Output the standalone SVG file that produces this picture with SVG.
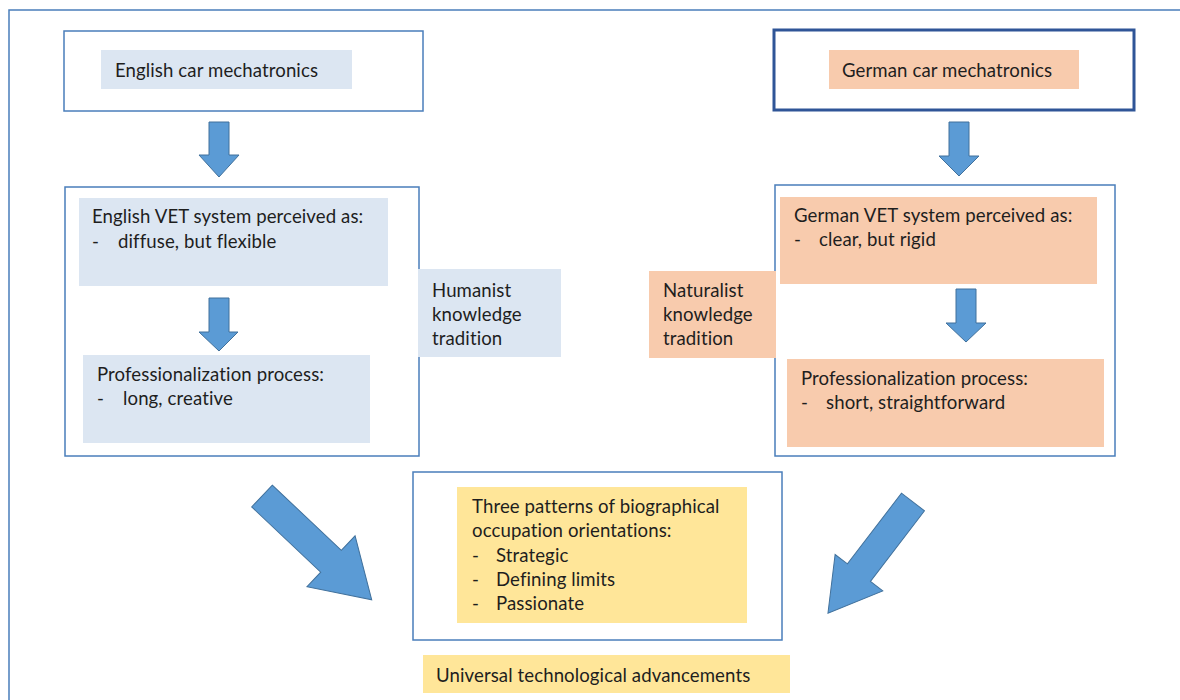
<svg xmlns="http://www.w3.org/2000/svg" width="1180" height="700" viewBox="0 0 1180 700">
  <style>
    .frame { fill: none; stroke: #4a7ebb; stroke-width: 1.5; }
    .box { fill: #ffffff; stroke: #4a7ebb; stroke-width: 1.5; }
    .box-strong { fill: #ffffff; stroke: #2f5597; stroke-width: 3; }
    .blue { fill: #dce6f2; }
    .peach { fill: #f8cbad; }
    .yellow { fill: #ffe699; }
    .arrow { fill: #5b9bd5; stroke: #41719c; stroke-width: 1; stroke-linejoin: miter; }
    text { font-family: Lato, "Liberation Sans", Arial, sans-serif; font-size: 18.6px; letter-spacing: 0.1px; fill: #1e1e1e; }
  </style>

  <rect x="0" y="0" width="1180" height="700" fill="#ffffff"/>
  <path class="frame" d="M9,700 V10 H1180"/>

  <!-- English side -->
  <g id="english-car">
    <rect class="box" x="64" y="31" width="359" height="80"/>
    <rect class="blue" x="101" y="50" width="251" height="39"/>
    <text x="115" y="77">English car mechatronics</text>
  </g>

  <g id="english-vet">
    <rect class="box" x="65" y="187" width="354" height="269"/>
    <rect class="blue" x="79" y="198" width="309" height="88"/>
    <text x="92" y="223">English VET system perceived as:</text>
    <text x="92" y="248">-</text>
    <text x="118" y="248">diffuse, but flexible</text>
    <rect class="blue" x="83" y="355" width="287" height="88"/>
    <text x="97" y="381">Professionalization process:</text>
    <text x="97" y="405">-</text>
    <text x="123" y="405">long, creative</text>
  </g>

  <g id="humanist">
    <rect class="blue" x="418" y="269" width="143" height="88"/>
    <text x="432" y="297">Humanist</text>
    <text x="432" y="321">knowledge</text>
    <text x="432" y="345">tradition</text>
  </g>

  <!-- German side -->
  <g id="german-car">
    <rect class="box-strong" x="774" y="30" width="360" height="80"/>
    <rect class="peach" x="829" y="50" width="250" height="39"/>
    <text x="842" y="77">German car mechatronics</text>
  </g>

  <g id="german-vet">
    <rect class="box" x="775" y="185" width="340" height="271"/>
    <rect class="peach" x="780" y="197" width="317" height="87"/>
    <text x="794" y="222">German VET system perceived as:</text>
    <text x="794" y="246">-</text>
    <text x="819" y="246">clear, but rigid</text>
    <rect class="peach" x="787" y="359" width="317" height="88"/>
    <text x="801" y="385">Professionalization process:</text>
    <text x="801" y="409">-</text>
    <text x="826" y="409">short, straightforward</text>
  </g>

  <g id="naturalist">
    <rect class="peach" x="649" y="271" width="127" height="87"/>
    <text x="663" y="297">Naturalist</text>
    <text x="663" y="321">knowledge</text>
    <text x="663" y="345">tradition</text>
  </g>

  <!-- Centre -->
  <g id="patterns">
    <rect class="box" x="413" y="472" width="369" height="168"/>
    <rect class="yellow" x="457" y="487" width="290" height="136"/>
    <text x="472" y="513">Three patterns of biographical</text>
    <text x="472" y="537">occupation orientations:</text>
    <text x="472" y="562">-</text>
    <text x="496" y="562">Strategic</text>
    <text x="472" y="586">-</text>
    <text x="496" y="586">Defining limits</text>
    <text x="472" y="610">-</text>
    <text x="496" y="610">Passionate</text>
  </g>

  <g id="universal">
    <rect class="yellow" x="423" y="655" width="367" height="38"/>
    <text x="436" y="682">Universal technological advancements</text>
  </g>

  <!-- Block arrows -->
  <g id="connectors">
    <polygon class="arrow" points="209,122 229,122 229,155 239,155 219,177 199,155 209,155"/>
    <polygon class="arrow" points="949,122 969,122 969,156 979,156 959,176 939,156 949,156"/>
    <polygon class="arrow" points="209,298 229,298 229,332 238,332 219,351 199,332 209,332"/>
    <polygon class="arrow" points="956,289 976,289 976,323 986,323 966,342 946,323 956,323"/>
    <polygon class="arrow" transform="translate(262,496) rotate(43.4)" points="0,-15 95,-15 95,-35 151,0 95,35 95,15 0,15"/>
    <polygon class="arrow" transform="translate(913,502) rotate(127.4)" points="0,-14.5 89,-14.5 89,-30 140,0 89,30 89,14.5 0,14.5"/>
  </g>
</svg>
